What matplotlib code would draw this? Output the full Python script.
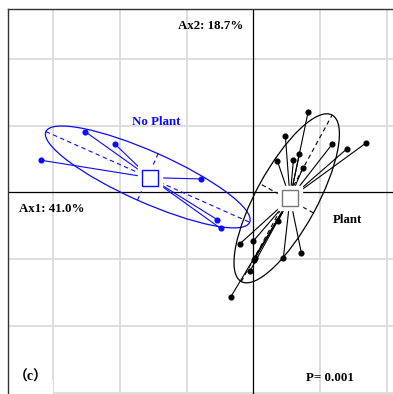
import matplotlib
matplotlib.use("Agg")
import matplotlib.pyplot as plt
import numpy as np
from matplotlib.patches import Ellipse, Rectangle

# PCoA site scores (axis 1, axis 2) per group
noplant_x = [-2.52, -2.07, -3.18, -0.78, -0.54, -0.49]
noplant_y = [0.91, 0.72, 0.48, 0.20, -0.41, -0.54]
plant_x = [0.82, 0.48, 1.18, 1.69, 1.40, 0.69, 0.60, 0.36, 0.74,
           0.37, -0.20, 0.00, 0.01, 0.03, -0.05, 0.45, 0.72, -0.34]
plant_y = [1.20, 0.84, 0.72, 0.74, 0.65, 0.57, 0.48, 0.47, 0.36,
           -0.43, -0.77, -0.73, -1.01, -0.98, -1.18, -0.98, -0.91, -1.57]

# group centroids and dispersion ellipses (centre, semi-axes, angle in deg)
noplant_centroid = (-1.55, 0.22)
plant_centroid = (0.55, -0.09)
noplant_ell = dict(center=(-1.58, 0.23), a=1.67, b=0.38, angle=-24.0)
plant_ell = dict(center=(0.50, -0.09), a=1.42, b=0.457, angle=61.4)

axis_labels = ["Ax1: 41.0%", "Ax2: 18.7%"]
group_names = ["No Plant", "Plant"]
panel_label = "（c）"
p_text = "P= 0.001"

grid_ticks = [-3, -2, -1, 1, 2]
grid_yticks = [2, 1, -1, -2, -3]

BLUE = "#0a0aff"
GRID = "#dedede"

fig = plt.figure(figsize=(3.93, 3.94), dpi=100)
ax = fig.add_axes([8.3 / 393, 0, (393 - 8.3) / 393, (394 - 9.3) / 394])
ax.set_xlim(-3.668, 2.091)
ax.set_ylim(-3.020, 2.740)
ax.set_aspect("equal", adjustable="box")
for s in ["right", "bottom"]:
    ax.spines[s].set_visible(False)
for s in ["left", "top"]:
    ax.spines[s].set_color("#333333")
    ax.spines[s].set_linewidth(1.0)
ax.set_xticks([])
ax.set_yticks([])

for t in grid_ticks:
    ax.axvline(t, color=GRID, lw=1.4, zorder=0)
for t in grid_yticks:
    ax.axhline(t, color=GRID, lw=1.4, zorder=0)
ax.axhline(0, color="black", lw=0.9, zorder=1)
ax.axvline(0, color="black", lw=0.9, zorder=1)


def draw_group(xs, ys, cen, ell, color, box_edge):
    cx, cy = cen
    # spokes from centroid to each site
    for x, y in zip(xs, ys):
        ax.plot([cx, x], [cy, y], color=color, lw=0.8, zorder=2)
    ax.plot(xs, ys, "o", color=color, ms=3.4, zorder=5)
    ex, ey = ell["center"]
    th = np.deg2rad(ell["angle"])
    # ellipse axes, dashed
    for r, ang in [(ell["a"], th), (ell["b"], th + np.pi / 2)]:
        dx, dy = r * np.cos(ang), r * np.sin(ang)
        ax.plot([ex - dx, ex + dx], [ey - dy, ey + dy], color=color,
                lw=0.8, ls=(0, (4, 3)), zorder=2)
    ax.add_patch(Ellipse((ex, ey), 2 * ell["a"], 2 * ell["b"], angle=ell["angle"],
                         fill=False, edgecolor=color, lw=0.9, zorder=3))
    ax.plot(cx, cy, "s", ms=17, mfc="white", mec="white", zorder=6)
    ax.plot(cx, cy, "s", ms=11.5, mfc="white", mec=box_edge, mew=1.0, zorder=7)


draw_group(noplant_x, noplant_y, noplant_centroid, noplant_ell, BLUE, BLUE)
draw_group(plant_x, plant_y, plant_centroid, plant_ell, "black", "#777777")

font = dict(family=["Liberation Serif", "Noto Sans CJK SC"], fontweight="bold", fontsize=9.3)
ax.text(-0.64, 2.49, axis_labels[1], ha="center", va="center", **font)
ax.text(-3.51, -0.25, axis_labels[0], ha="left", va="center", **font)
ax.text(-1.46, 1.06, group_names[0], ha="center", va="center", color=BLUE, **font)
ax.text(1.41, -0.41, group_names[1], ha="center", va="center", **font)
ax.text(1.15, -2.78, p_text, ha="center", va="center", **font)

ax.add_patch(Rectangle((0, 0), (53 - 8.3) / 384.7, (394 - 380) / 384.7,
                       transform=ax.transAxes, facecolor="white", edgecolor="none", zorder=1))
ax.text(-3.33, -2.77, panel_label, ha="center", va="center", zorder=8,
        **dict(font, fontsize=10))

fig.savefig("out.png", dpi=100)
